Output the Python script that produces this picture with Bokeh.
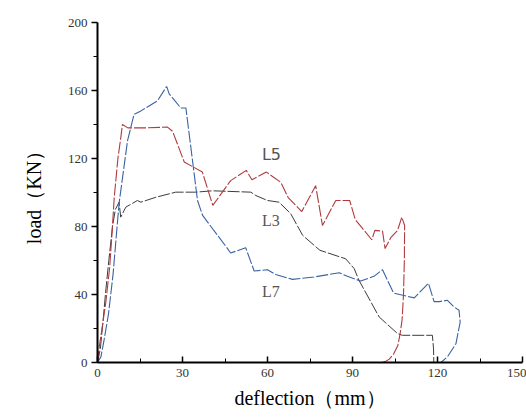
from bokeh.plotting import figure
from bokeh.models import Range1d, ColumnDataSource, FixedTicker
from bokeh.embed import file_html
from bokeh.resources import INLINE

# ---- data ----
l5_x = [0, 0.6, 1.5, 2.9, 4.3, 5.2, 5.9, 7.2, 8.2, 8.8, 10.7, 17, 24.7, 26.5, 30.6, 37,
        40.7, 47, 52.5, 54.5, 59.6, 64.7, 67.3, 72.1, 77, 79.4, 84.1, 89, 91, 96.8,
        97.9, 100.6, 101.5, 103.5, 105.9, 107.4, 108.4, 108.3, 108, 107.5, 106.8, 106,
        104.5, 103, 101.5, 100.5]
l5_y = [0, 9, 19, 35, 56, 78, 97, 120, 132, 140, 138, 138, 138.5, 136, 118, 112,
        92.4, 107, 113, 107.5, 112, 106, 97, 88.8, 104, 80.6, 95.3, 95.3, 84, 72.2,
        77.7, 77.3, 67, 73.4, 77.7, 85.5, 80.6, 60, 40, 25, 17, 10,
        5, 2, 0.5, 0]

l3_x = [0, 1, 2, 2.9, 4, 5.3, 6.3, 7.6, 8.2, 10, 14.1, 15.3, 20.6, 27.6, 34.7, 40.6,
        54.1, 55.9, 60, 64.1, 68.2, 72.4, 78.5, 87.6, 90.6, 92.3, 99.4, 105.9, 107.6,
        112.4, 118.2, 118.6, 118.7]
l3_y = [0, 8, 25, 42, 60, 80, 90, 94.3, 85.5, 91.4, 95.3, 94.3, 97.2, 100.2, 100.2, 101,
        100.2, 98.2, 95.3, 94.3, 87.5, 74.8, 66, 61, 55.2, 48.3, 26.8, 17, 16,
        16, 16, 8, 0]

l7_x = [0, 1.2, 2.3, 3.9, 5.5, 6.7, 7.6, 10.6, 12.9, 15.3, 21.2, 24.4, 25.3, 29.4, 31.2,
        35.3, 37.1, 45.9, 47, 52.3, 55.3, 60, 62.9, 68.8, 76.5, 85.3, 88.2, 92.9, 97.6,
        100.6, 104.5, 111.8, 116.8, 118.8, 120.6, 123.5, 125.9, 127.6, 128, 126.5,
        123.5, 121.2]
l7_y = [0, 3.3, 13, 28.8, 52, 75.7, 93.4, 130.5, 146, 148, 154, 162.4, 158, 149.7, 149.7,
        95.3, 86.5, 67, 64.4, 67.5, 53.8, 54.6, 51.8, 48.9, 50.3, 52.8, 50.7, 47.9, 50.7,
        54.6, 40.8, 38, 46.6, 35.8, 35.8, 36.6, 32.6, 30.7, 23.8, 11,
        3.3, 0]

series_names = ["L5", "L3", "L7"]
label_x = [61.4, 61.2, 61.2]
label_y = [122.3, 83.6, 42]

x_ticks = [0, 30, 60, 90, 120, 150]
y_ticks = [0, 40, 80, 120, 160, 200]

# ---- figure ----
p = figure(width=526, height=417, output_backend="svg", toolbar_location=None,
           x_range=Range1d(0, 150), y_range=Range1d(0, 200),
           min_border_left=97, min_border_right=4, min_border_top=22, min_border_bottom=55)
p.outline_line_color = None
p.xgrid.visible = False
p.ygrid.visible = False
p.background_fill_color = "white"
p.border_fill_color = "white"

serif = "Liberation Serif"

p.line(l3_x, l3_y, line_color="#3c3c3c", line_width=1.0, line_dash="12 2")
p.line(l5_x, l5_y, line_color="#b03a3c", line_width=1.1, line_dash="12 2")
p.line(l7_x, l7_y, line_color="#3a62a0", line_width=1.1, line_dash="12 2")

src = ColumnDataSource(dict(x=label_x, y=label_y, t=series_names,
                            f=["DejaVu Sans", serif, serif]))
p.text(x="x", y="y", text="t", source=src, text_font="f", text_font_size="16px",
       text_color="#555555", text_align="center", text_baseline="middle")

# axes
xa = p.xaxis[0]
ya = p.yaxis[0]
xa.ticker = FixedTicker(ticks=x_ticks, minor_ticks=[15, 45, 75, 105, 135])
ya.ticker = FixedTicker(ticks=y_ticks, minor_ticks=[20, 60, 100, 140, 180])
for ax in (xa, ya):
    ax.axis_line_width = 2
    ax.axis_line_color = "black"
    ax.major_tick_line_color = "black"
    ax.minor_tick_line_color = "black"
    ax.major_tick_line_width = 1.5
    ax.minor_tick_line_width = 1
    ax.major_label_text_font = serif
    ax.major_label_text_font_size = "13px"
    ax.major_label_text_color = "#333333"
    ax.axis_label_text_font = serif
    ax.axis_label_text_font_style = "normal"
    ax.axis_label_text_font_size = "20px"
    ax.axis_label_text_color = "black"

xa.major_tick_in = 6
xa.major_tick_out = 0
xa.minor_tick_in = 4
xa.minor_tick_out = 0
xa.major_label_standoff = 6
xa.axis_label = "deflection（mm）"
xa.axis_label_standoff = 7

ya.major_tick_in = 0
ya.major_tick_out = 6
ya.minor_tick_in = 0
ya.minor_tick_out = 4
ya.major_label_standoff = 4
ya.axis_label = "load（KN）"
ya.axis_label_standoff = 20

open("out.html", "w").write(file_html(p, INLINE))
